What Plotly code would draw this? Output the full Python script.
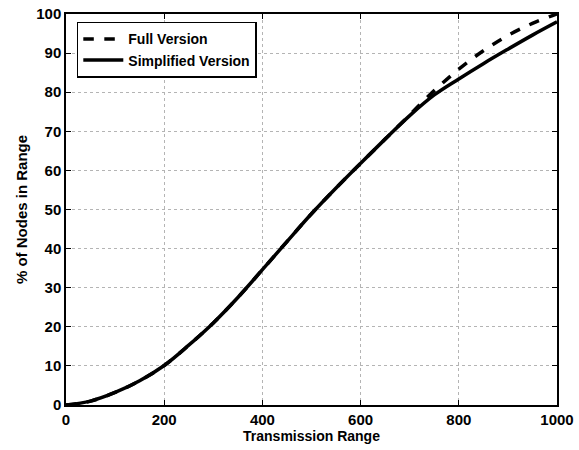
import plotly.graph_objects as go

x_range = [0, 50, 100, 150, 200, 250, 300, 350, 400, 450, 500, 550, 600, 650, 700, 750, 800, 850, 900, 950, 1000]
simplified = [0, 1.0, 3.2, 6.2, 10.1, 15.3, 21.0, 27.5, 34.6, 41.8, 48.9, 55.5, 61.8, 68.0, 74.0, 79.3, 83.4, 87.3, 91.0, 94.6, 98.0]
full = [0, 1.0, 3.2, 6.2, 10.1, 15.3, 21.0, 27.5, 34.6, 41.8, 48.9, 55.5, 61.8, 68.0, 74.2, 80.4, 85.9, 90.6, 94.5, 97.6, 100.0]
x_ticks = [0, 200, 400, 600, 800, 1000]
y_ticks = [0, 10, 20, 30, 40, 50, 60, 70, 80, 90, 100]

font_family = "Liberation Sans, Arial, sans-serif"

fig = go.Figure()
fig.add_trace(go.Scatter(x=x_range, y=full, mode="lines", name="Full Version",
                         line=dict(color="black", width=3.5, dash="dash", shape="spline")))
fig.add_trace(go.Scatter(x=x_range, y=simplified, mode="lines", name="Simplified Version",
                         line=dict(color="black", width=3.5, shape="spline")))

axis_common = dict(showline=True, linecolor="black", linewidth=1.5, mirror="ticks",
                   ticks="inside", ticklen=5, tickcolor="black", showgrid=True,
                   gridcolor="#b4b4b4", griddash="dot", gridwidth=1, zeroline=False,
                   automargin=False,
                   tickfont=dict(family=font_family, size=15, color="black", weight="bold"))

fig.update_xaxes(range=[0, 1000], tickvals=x_ticks, ticktext=[str(v) for v in x_ticks],
                 title=dict(text="Transmission Range", standoff=1,
                            font=dict(family=font_family, size=14, color="black", weight="bold")),
                 **axis_common)
fig.update_yaxes(range=[0, 100], tickvals=y_ticks, ticktext=[str(v) for v in y_ticks],
                 title=dict(text="% of Nodes in Range", standoff=5,
                            font=dict(family=font_family, size=15, color="black", weight="bold")),
                 **axis_common)

fig.update_layout(width=579, height=450, margin=dict(l=66, r=22, t=14, b=45),
                  plot_bgcolor="white", paper_bgcolor="white",
                  legend=dict(x=0.022, y=0.98, xanchor="left", yanchor="top",
                              bgcolor="white", bordercolor="black", borderwidth=1.5,
                              font=dict(family=font_family, size=14, color="black", weight="bold"),
                              tracegroupgap=0, itemwidth=40),
                  showlegend=True)

fig.write_html("out.html")
